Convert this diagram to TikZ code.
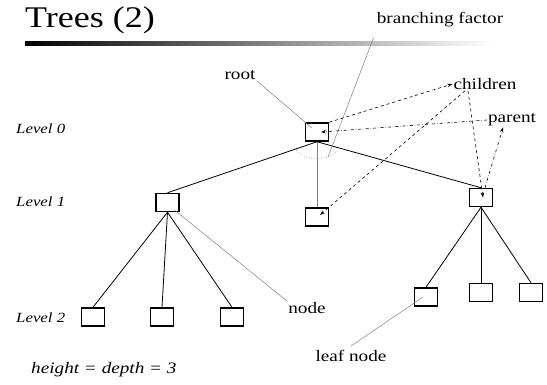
\documentclass[tikz,border=0pt]{standalone}
\usepackage{fontspec}
\setmainfont[FakeStretch=1.2]{Liberation Serif}
\usepackage{tikz}
\usetikzlibrary{arrows.meta}

\begin{document}
\begin{tikzpicture}[x=1pt,y=-1pt,>={Stealth[length=5pt,width=3.5pt]},
    every node/.style={font=\fontsize{16}{18}\selectfont,inner sep=1pt},
    box/.style={draw,line width=1.5pt,minimum width=23pt,minimum height=18pt,inner sep=0pt},
    level/.style={anchor=west,font=\fontsize{14}{16}\selectfont\itshape},
    edge/.style={line width=0.8pt}, note/.style={gray,line width=0.5pt},
    kids/.style={->,dashed,line width=0.6pt}, up/.style={->,dash dot,line width=0.6pt}]
    \useasboundingbox (0,0) rectangle (547,385);
    \node[anchor=base west,inner sep=0pt,font=\fontsize{30}{32}\selectfont] (title) at (25,28) {Trees (2)};
    \shade[left color=black,right color=white] (25,42) rectangle (492,46);
    % the tree
    \node[box] (root) at (317,132) {};
    \node[box] (left) at (167.5,202.5) {};
    \node[box] (mid) at (317,217) {};
    \node[box] (right) at (481,197.5) {};
    \node[box] (leafa) at (93,317) {};
    \node[box] (leafb) at (162,317) {};
    \node[box] (leafc) at (232,317) {};
    \node[box] (leafd) at (426,297) {};
    \node[box] (leafe) at (481,292.5) {};
    \node[box] (leaff) at (531,292.5) {};
    \draw[edge] (root.south) -- (left.north);
    \draw[edge,gray] (root.south) -- (mid.north);
    \draw[edge] (root.south) -- (right.north);
    \foreach \c in {leafa,leafb,leafc} \draw[edge] (left.south) -- (\c.north);
    \foreach \c in {leafd,leafe,leaff} \draw[edge] (right.south) -- (\c.north);
    % levels
    \node[level] (lev0) at (15,129) {Level 0};
    \node[level] (lev1) at (15,202) {Level 1};
    \node[level] (lev2) at (15,318) {Level 2};
    \node[anchor=west,font=\fontsize{16}{18}\selectfont\itshape] (height) at (30,370) {height = depth = 3};
    % labels
    \node (rootlbl) at (240,75) {root};
    \node (bflbl) at (440,20) {branching factor};
    \node (children) at (485,84) {children};
    \node (parent) at (512,120) {parent};
    \node (nodelbl) at (307,308) {node};
    \node (leaflbl) at (351,356) {leaf node};
    \draw[note] (rootlbl.south east) -- ([shift={(-5pt,4pt)}]root.center);
    \draw[note,dotted,line width=0.7pt] ([shift={(-20.8,8.5)}]root.south) arc[start angle=210,end angle=330,x radius=24pt,y radius=17pt];
    \coordinate (bfend) at (328,157);
    \draw[note] ([shift={(-2pt,-9pt)}]bflbl.south west) -- (bfend);
    \draw[note] (nodelbl.north west) -- ([shift={(-5pt,2pt)}]left.south east);
    \draw[note] ([yshift=3pt]leaflbl.north) -- ([xshift=-3pt]leafd.center);
    % children and parent
    \draw[kids] (root.north east) -- (children.west);
    \draw[kids] ([xshift=-20pt]children.south) -- ([shift={(3pt,2pt)}]mid.center);
    \draw[kids] ([xshift=-17pt]children.south) -- ([xshift=2pt]right.center);
    \draw[up] (parent.west) -- ([xshift=4pt]root.center);
    \draw[up] ([xshift=4pt]right.north) -- ([xshift=-9pt]parent.south);
  \end{tikzpicture}
\end{document}
